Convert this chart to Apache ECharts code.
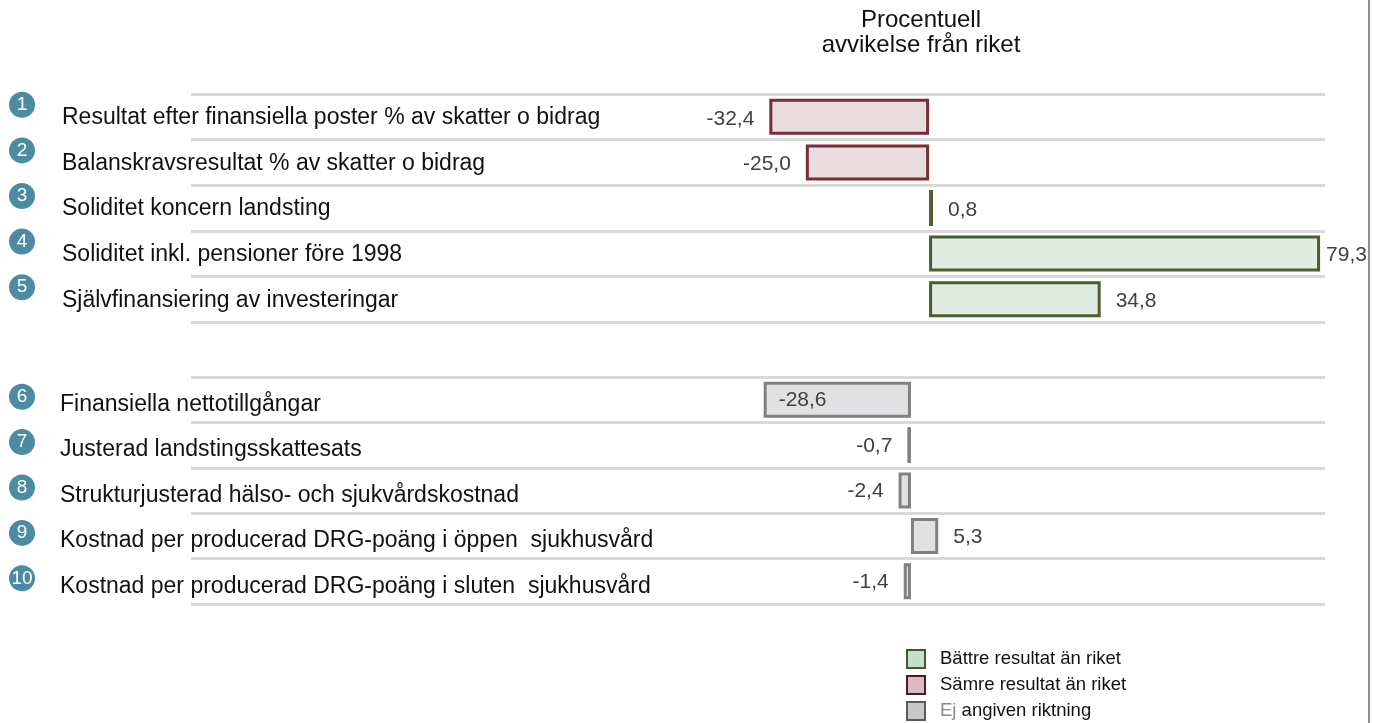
<!DOCTYPE html>
<html><head><meta charset="utf-8">
<script src="https://cdn.jsdelivr.net/npm/echarts@6/dist/echarts.min.js"></script>
<style>html,body{margin:0;padding:0;background:#fff}#c{width:1373px;height:723px}</style>
</head><body><div id="c"></div>
<script>
// ---- data ----
const numbersTop = ['1', '2', '3', '4', '5'];
const categoriesTop = [
  'Resultat efter finansiella poster % av skatter o bidrag',
  'Balanskravsresultat % av skatter o bidrag',
  'Soliditet koncern landsting',
  'Soliditet inkl. pensioner före 1998',
  'Självfinansiering av investeringar'
];
const valuesTop = [-32.4, -25.0, 0.8, 79.3, 34.8];

const numbersBottom = ['6', '7', '8', '9', '10'];
const categoriesBottom = [
  'Finansiella nettotillgångar',
  'Justerad landstingsskattesats',
  'Strukturjusterad hälso- och sjukvårdskostnad',
  'Kostnad per producerad DRG-poäng i öppen  sjukhusvård',
  'Kostnad per producerad DRG-poäng i sluten  sjukhusvård'
];
const valuesBottom = [-28.6, -0.7, -2.4, 5.3, -1.4];

const legendNames = ['Bättre resultat än riket', 'Sämre resultat än riket', 'Ej angiven riktning'];
const titleLines = ['Procentuell', 'avvikelse från riket'];

// ---- styling ----
const FONT = "'Liberation Sans', Arial, sans-serif";
const GREEN = { color: '#deece2', borderColor: '#4b5e2e', borderWidth: 3 };
const RED = { color: '#e8dcdf', borderColor: '#7b2c35', borderWidth: 3 };
const GRAY = { color: '#e1e1e3', borderColor: '#808080', borderWidth: 3 };

function fmt(v) { return v.toFixed(1).replace('.', ','); }

function item(v, inside, dy) {
  let pos = v < 0 ? 'left' : 'right';
  let dist = 15;
  if (inside) { pos = 'insideLeft'; dist = 15; }
  if (v > 70) dist = 6;
  return {
    value: v,
    label: {
      show: true, position: pos, distance: dist, offset: [0, dy || 0],
      fontSize: 21, color: '#404040', fontFamily: FONT,
      formatter: p => fmt(p.value)
    }
  };
}

function textAxis(grid, data, margin, down) {
  return {
    type: 'category', gridIndex: grid, data: data, inverse: true, position: 'left',
    axisLine: { show: false }, axisTick: { show: false },
    splitLine: { show: true, lineStyle: { color: '#d9d9d9', width: 3 } },
    axisLabel: { align: 'left', margin: margin, padding: [down * 2, 0, 0, 0],
                 formatter: v => '{t|' + v + '}',
                 rich: { t: { fontSize: 23, color: '#111', fontFamily: FONT } } }
  };
}
function circleAxis(grid, data, shift) {
  return {
    type: 'category', gridIndex: grid, data: data, inverse: true, position: 'left', offset: 0,
    axisLine: { show: false }, axisTick: { show: false }, splitLine: { show: false },
    axisLabel: {
      align: 'center', margin: 169, padding: [0, 0, shift * 2, 0],
      formatter: v => '{c|' + v + '}',
      rich: { c: { width: 26, height: 26, lineHeight: 26, borderRadius: 13, backgroundColor: '#4d8ba3',
                   color: '#fff', fontSize: 19, align: 'center', fontFamily: FONT } }
    }
  };
}

const option = {
  animation: false,
  backgroundColor: '#fff',
  title: {
    text: titleLines.join('\n'), left: 921, top: 8, textAlign: 'center', padding: 0,
    textStyle: { fontSize: 24, lineHeight: 25, fontWeight: 'normal', color: '#111', fontFamily: FONT }
  },
  grid: [
    { left: 191, right: 48, top: 94, height: 228, outerBoundsMode: 'none', containLabel: false },
    { left: 191, right: 48, top: 377, height: 227, outerBoundsMode: 'none', containLabel: false }
  ],
  xAxis: [
    { type: 'value', gridIndex: 0, min: -149.7, max: 80.3, show: false },
    { type: 'value', gridIndex: 1, min: -139.8, max: 80.4, show: false }
  ],
  yAxis: [
    textAxis(0, categoriesTop, 129, 1),
    circleAxis(0, numbersTop, 12),
    textAxis(1, categoriesBottom, 131, 5),
    circleAxis(1, numbersBottom, 3)
  ],
  legend: {
    orient: 'vertical', left: 906, top: 649, itemWidth: 18, itemHeight: 18, itemGap: 6, padding: 0,
    icon: 'rect', selectedMode: false,
    textStyle: { fontSize: 18.5, color: '#111', fontFamily: FONT, padding: [0, 0, 0, 10],
      rich: { g: { fontSize: 18.5, color: '#8a8a8a', fontFamily: FONT }, n: { fontSize: 18.5, color: '#111', fontFamily: FONT } } },
    formatter: name => name === legendNames[2] ? '{g|Ej} {n|angiven riktning}' : name,
    data: [
      { name: legendNames[0], itemStyle: { color: '#c6e0c8', borderColor: '#3e5a2c', borderWidth: 2 } },
      { name: legendNames[1], itemStyle: { color: '#d9bcc3', borderColor: '#4a1820', borderWidth: 2 } },
      { name: legendNames[2], itemStyle: { color: '#c8c8c8', borderColor: '#5a5a5a', borderWidth: 2 } }
    ]
  },
  graphic: [
    { type: 'line', shape: { x1: 1369, y1: 0, x2: 1369, y2: 723 }, style: { stroke: '#8f8f8f', lineWidth: 2 } }
  ],
  series: [
    { name: legendNames[0], type: 'bar', xAxisIndex: 0, yAxisIndex: 0, stack: 'top', barWidth: 36,
      itemStyle: GREEN, data: valuesTop.map(v => v >= 0 ? item(v, false, 2) : null) },
    { name: legendNames[1], type: 'bar', xAxisIndex: 0, yAxisIndex: 0, stack: 'top', barWidth: 36,
      itemStyle: RED, data: valuesTop.map(v => v < 0 ? item(v, false, 2) : null) },
    { name: legendNames[2], type: 'bar', xAxisIndex: 1, yAxisIndex: 2, barWidth: 36,
      itemStyle: GRAY, data: valuesBottom.map(v => item(v, v < -20, 1)) }
  ]
};

const chart = echarts.init(document.getElementById('c'), null, { renderer: 'canvas' });
chart.setOption(option);
</script>
</body></html>
